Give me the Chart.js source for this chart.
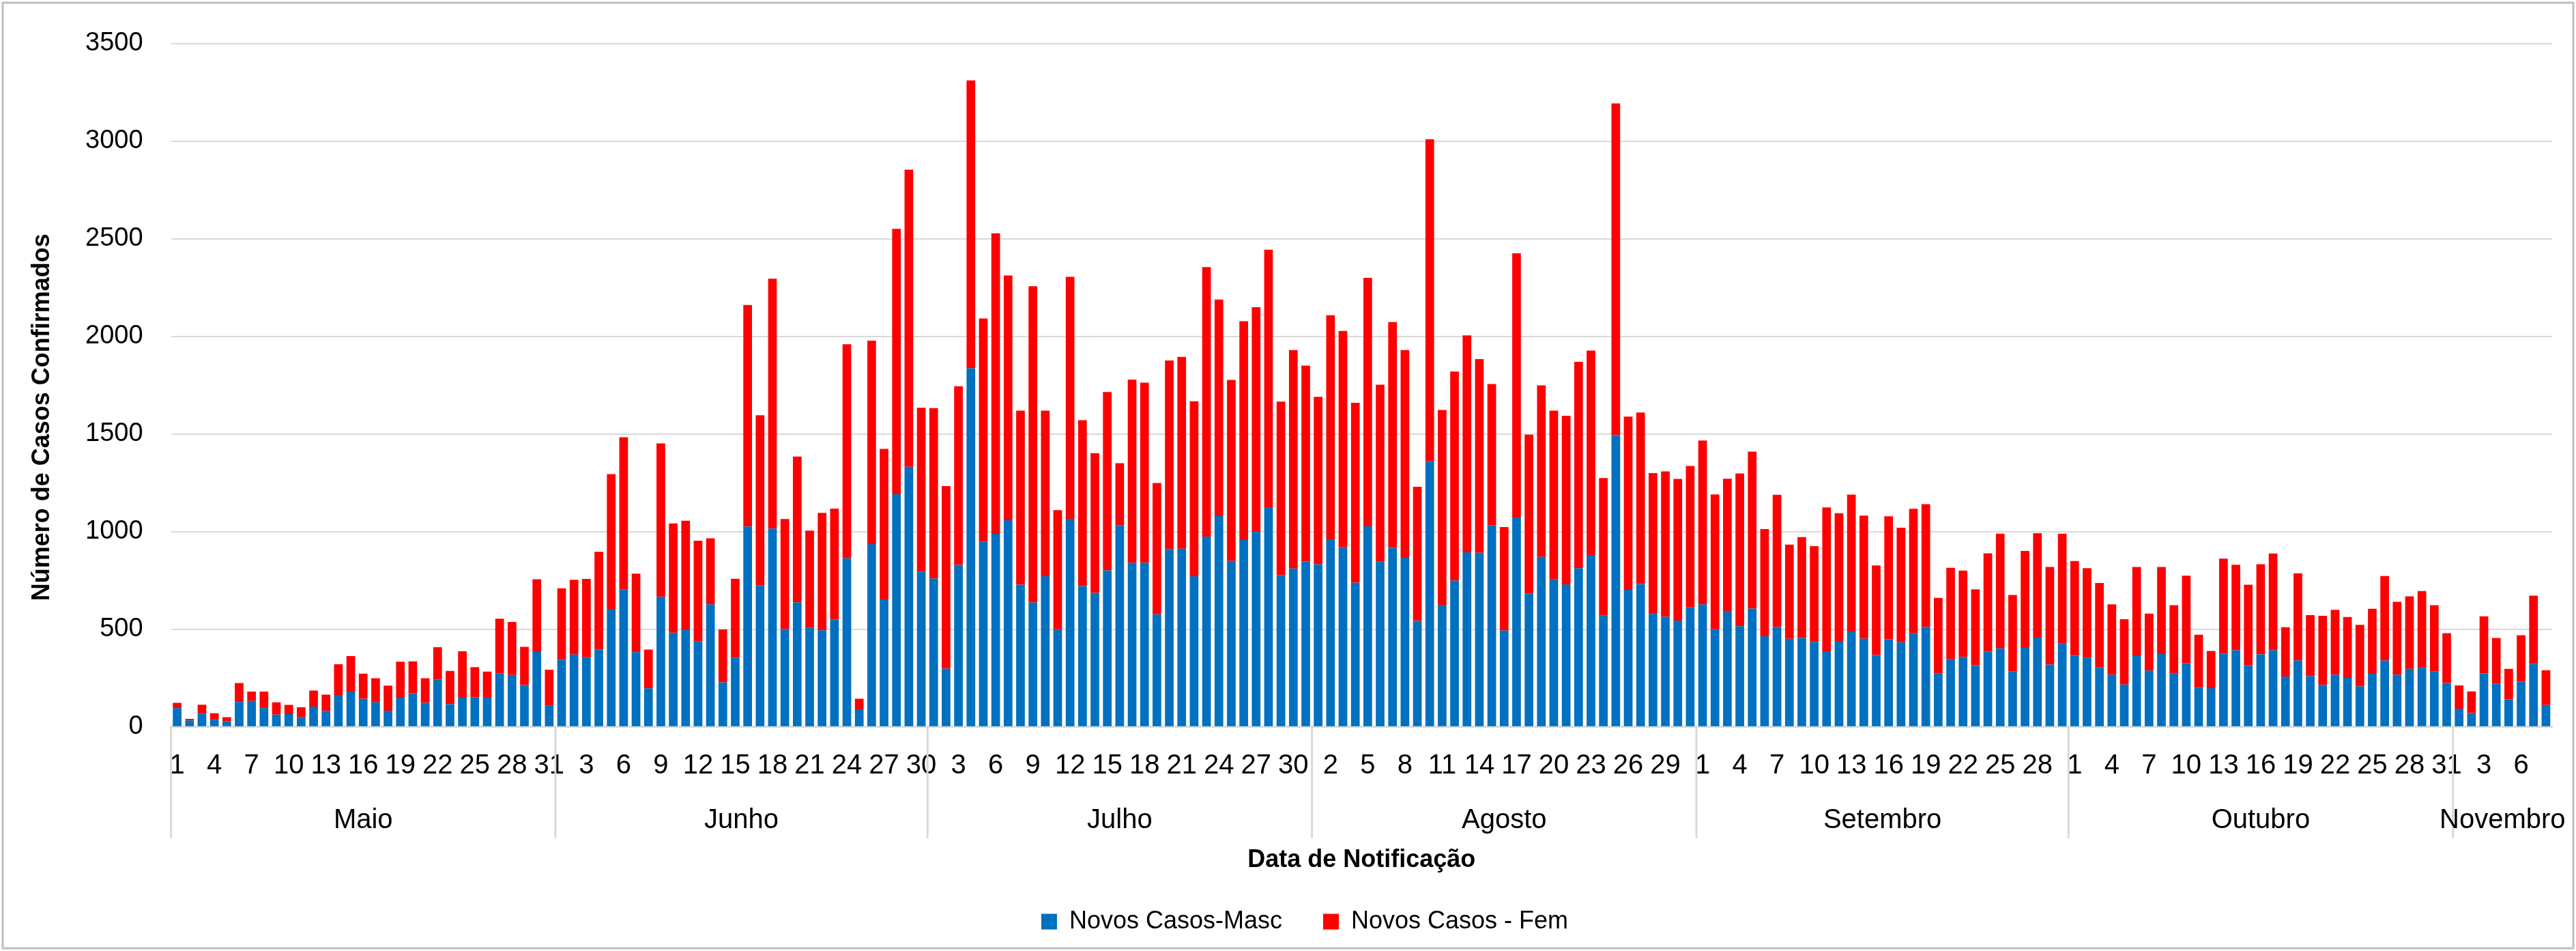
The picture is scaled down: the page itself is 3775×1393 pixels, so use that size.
<!DOCTYPE html>
<html>
<head>
<meta charset="utf-8">
<script src="https://cdn.jsdelivr.net/npm/chart.js@4.4.1/dist/chart.umd.min.js"></script>
<style>
  html, body { margin: 0; padding: 0; background: #fff; }
  #wrap { width: 3775px; height: 1393px; }
</style>
</head>
<body>
<div id="wrap"><canvas id="chart" width="3775" height="1393"></canvas></div>
<script>
// Months shown under the day ticks, and how many days each one has in the data
const months = ["Maio", "Junho", "Julho", "Agosto", "Setembro", "Outubro", "Novembro"];
const monthDays = [31, 30, 31, 31, 30, 31, 8];

// New cases per day - men (blue, bottom of the stack)
const novosMasc = [
  // Maio
  96, 33, 68, 37, 30, 128, 133, 96, 63, 66, 51, 104, 82, 164, 181, 144, 126, 83, 153, 172, 123, 242, 116, 150, 152, 150, 275, 266, 214, 384, 109,
  // Junho
  344, 371, 357, 396, 604, 705, 383, 198, 666, 483, 499, 439, 628, 228, 355, 1026, 726, 1016, 501, 638, 507, 495, 550, 864, 90, 936, 653, 1192, 1332, 796,
  // Julho
  761, 298, 830, 1837, 948, 989, 1059, 728, 637, 772, 500, 1066, 721, 686, 802, 1033, 841, 841, 577, 911, 913, 772, 975, 1080, 850, 957, 998, 1125, 778, 811, 847,
  // Agosto
  833, 961, 920, 739, 1027, 846, 917, 866, 543, 1360, 625, 749, 894, 892, 1033, 494, 1073, 684, 871, 755, 730, 813, 880, 570, 1494, 702, 732, 579, 565, 545, 612,
  // Setembro
  628, 500, 594, 516, 606, 464, 512, 451, 456, 435, 387, 440, 489, 452, 368, 449, 434, 479, 512, 275, 346, 359, 316, 386, 402, 285, 408, 457, 319, 427,
  // Outubro
  365, 353, 304, 268, 217, 366, 289, 373, 275, 326, 200, 199, 376, 393, 317, 372, 393, 258, 340, 260, 215, 268, 251, 207, 272, 340, 268, 297, 303, 285, 225,
  // Novembro
  94, 71, 274, 222, 141, 232, 323, 112,
];

// New cases per day - women (red, top of the stack)
const novosFem = [
  // Maio
  27, 8, 46, 33, 20, 97, 48, 85, 63, 47, 50, 82, 83, 157, 182, 129, 123, 129, 181, 164, 126, 166, 171, 237, 154, 133, 279, 272, 196, 372, 184,
  // Junho
  366, 383, 401, 501, 691, 779, 402, 198, 786, 559, 557, 515, 338, 271, 404, 1135, 870, 1280, 564, 747, 498, 601, 568, 1096, 54, 1042, 771, 1359, 1522, 839,
  // Julho
  872, 936, 915, 1474, 1144, 1539, 1253, 892, 1620, 848, 610, 1239, 850, 716, 913, 318, 938, 922, 672, 966, 982, 896, 1380, 1109, 927, 1121, 1152, 1319, 888, 1119, 1004,
  // Agosto
  858, 1148, 1108, 921, 1273, 907, 1157, 1064, 687, 1650, 998, 1071, 1111, 992, 723, 530, 1353, 813, 878, 865, 864, 1057, 1048, 705, 1699, 887, 878, 721, 744, 725, 725,
  // Setembro
  839, 691, 677, 782, 804, 549, 677, 483, 516, 491, 737, 655, 701, 630, 459, 630, 586, 638, 629, 386, 469, 442, 389, 503, 588, 391, 493, 535, 500, 563,
  // Outubro
  485, 460, 433, 360, 335, 453, 292, 446, 348, 449, 272, 190, 486, 438, 411, 461, 495, 253, 447, 313, 354, 332, 312, 316, 333, 433, 373, 372, 393, 338, 255,
  // Novembro
  119, 111, 293, 234, 156, 238, 349, 178,
];

// Day-of-month labels for every bar
const dayLabels = [];
monthDays.forEach((n) => {
  for (let d = 1; d <= n; d++) dayLabels.push(String(d));
});

const yTitle = "Número de Casos Confirmados";

// Draws the white background + outer frame, the y title and the month row under the days
const monthGroupPlugin = {
  id: "monthGroupPlugin",
  beforeDraw(chart) {
    const ctx = chart.ctx;
    ctx.save();
    ctx.fillStyle = "#fff";
    ctx.fillRect(0, 0, chart.width, chart.height);
    ctx.strokeStyle = "#bfbfbf";
    ctx.lineWidth = 3;
    ctx.strokeRect(4, 4, chart.width - 8, chart.height - 8);
    ctx.restore();
  },
  afterDraw(chart) {
    const ctx = chart.ctx;
    const xScale = chart.scales.x;
    const area = chart.chartArea;
    const bottom = area.bottom;
    const half = (xScale.getPixelForValue(1) - xScale.getPixelForValue(0)) / 2;

    ctx.save();
    ctx.strokeStyle = "#d9d9d9";
    ctx.lineWidth = 3;
    ctx.fillStyle = "#000";
    ctx.font = "40px 'Liberation Sans', Arial, sans-serif";
    ctx.textAlign = "center";
    ctx.textBaseline = "middle";

    let start = 0;
    months.forEach((name, m) => {
      const end = start + monthDays[m] - 1;
      const left = xScale.getPixelForValue(start) - half;
      const right = xScale.getPixelForValue(end) + half;

      // separator at the start of each month
      ctx.beginPath();
      ctx.moveTo(left, bottom);
      ctx.lineTo(left, bottom + 163);
      ctx.stroke();

      ctx.fillText(name, (left + right) / 2, bottom + 137);
      start = end + 1;
    });

    // y axis title, sits a bit below the middle of the plot like the original
    ctx.font = "bold 36px 'Liberation Sans', Arial, sans-serif";
    ctx.translate(area.left - 188, (area.top + area.bottom) / 2 + 47);
    ctx.rotate(-Math.PI / 2);
    ctx.fillText(yTitle, 0, 0);
    ctx.restore();
  },
};

Chart.defaults.font.family = "'Liberation Sans', Arial, sans-serif";
Chart.defaults.color = "#000";

new Chart(document.getElementById("chart"), {
  type: "bar",
  data: {
    labels: dayLabels,
    datasets: [
      {
        label: "Novos Casos-Masc",
        data: novosMasc,
        backgroundColor: "#0070C0",
        borderWidth: 0,
      },
      {
        label: "Novos Casos - Fem",
        data: novosFem,
        backgroundColor: "#FF0000",
        borderWidth: 0,
      },
    ],
  },
  options: {
    responsive: false,
    devicePixelRatio: 1,
    animation: false,
    datasets: {
      bar: { barPercentage: 0.7, categoryPercentage: 1 },
    },
    layout: {
      padding: { left: 84, right: 35, top: 53, bottom: 15 },
    },
    plugins: {
      tooltip: { enabled: false },
      legend: {
        position: "bottom",
        labels: {
          boxWidth: 23,
          boxHeight: 23,
          padding: 60,
          color: "#000",
          font: { size: 36 },
        },
      },
    },
    scales: {
      x: {
        stacked: true,
        grid: { display: false, drawTicks: false },
        border: { display: true, color: "#d9d9d9", width: 3 },
        ticks: {
          autoSkip: false,
          maxRotation: 0,
          minRotation: 0,
          padding: 33,
          font: { size: 40 },
          callback: function (value, index) {
            return index % 3 === 0 ? this.getLabelForValue(value) : "";
          },
        },
        title: {
          display: true,
          text: "Data de Notificação",
          font: { size: 36, weight: "bold" },
          padding: { top: 60, bottom: -10 },
        },
      },
      y: {
        stacked: true,
        min: 0,
        max: 3500,
        grid: { color: "#d9d9d9", lineWidth: 2, drawTicks: false },
        border: { display: false },
        ticks: {
          stepSize: 500,
          padding: 41,
          font: { size: 38 },
          callback: (value) => String(value),
        },
        title: { display: false },
      },
    },
  },
  plugins: [monthGroupPlugin],
});
</script>
</body>
</html>
